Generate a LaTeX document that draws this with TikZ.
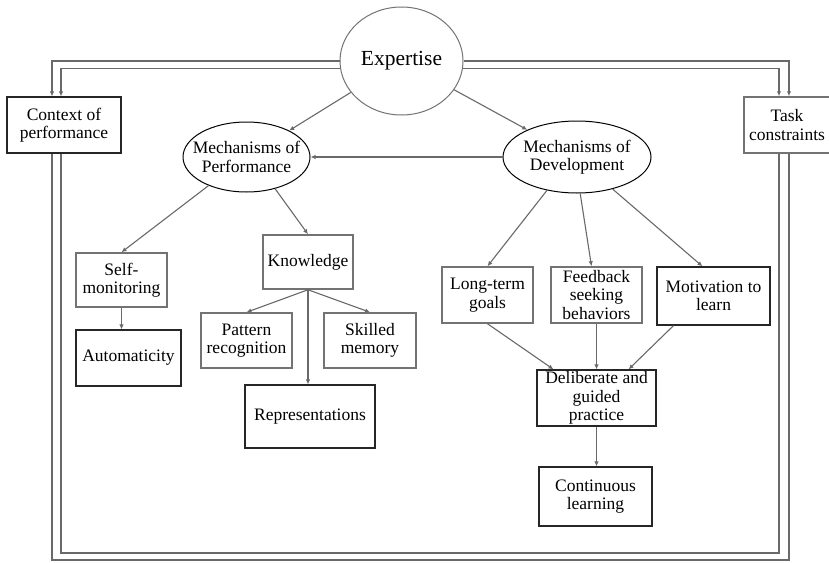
\documentclass[tikz,border=0pt]{standalone}
\usepackage{fontspec}
\setmainfont{Liberation Serif}
\usetikzlibrary{arrows.meta,shapes.geometric,calc}
\definecolor{lgray}{RGB}{105,105,105}
\definecolor{bgray}{RGB}{115,115,115}
\newcommand\nodefont{\fontsize{17.5}{18.5}\selectfont}
\begin{document}
\begin{tikzpicture}[x=1pt,y=-1pt,
  conn/.style={draw=lgray,line width=1.1pt,-{Latex[length=5pt,width=4.5pt]}},
  framel/.style={draw=lgray,line width=1.3pt},
  gbox/.style={draw=bgray,line width=1.5pt,align=center,inner sep=0pt,font=\nodefont},
  kbox/.style={draw=black!85,line width=1.2pt,align=center,inner sep=0pt,font=\nodefont},
  ell/.style={ellipse,draw=black,line width=1pt,align=center,inner xsep=-14pt,inner ysep=-4pt,font=\nodefont}]
\useasboundingbox[fill=white] (0,0) rectangle (829,562);

\node[ellipse,draw=bgray,line width=1pt,inner sep=0pt,minimum width=123pt,minimum height=108pt,font=\fontsize{21.5}{23}\selectfont] (E) at (401.5,61) {Expertise};
\node[kbox,minimum width=114pt,minimum height=56pt] (Ctx) at (64,125) {Context of\\performance};
\node[gbox,minimum width=86pt,minimum height=56pt] (T) at (787,125) {Task\\constraints};

\node[ell,minimum width=127pt,minimum height=70pt] (MP) at (246.5,157) {Mechanisms of\\Performance};
\node[ell,minimum width=148pt,minimum height=72pt] (MD) at (577,157) {Mechanisms of\\Development};

\node[gbox,minimum width=91pt,minimum height=54pt] (S) at (121.5,280) {Self-\\monitoring};
\node[gbox,minimum width=90pt,minimum height=54pt] (K) at (308,262) {Knowledge};
\node[kbox,minimum width=105pt,minimum height=56pt] (A) at (128.5,358) {Automaticity};
\node[gbox,minimum width=91pt,minimum height=55pt] (P) at (246.5,340.5) {Pattern\\recognition};
\node[gbox,minimum width=92pt,minimum height=55pt] (SM) at (370,340.5) {Skilled\\memory};
\node[kbox,minimum width=130pt,minimum height=63pt] (R) at (310,416.5) {Representations};

\node[gbox,minimum width=91pt,minimum height=56pt] (LT) at (487.5,295) {Long-term\\goals};
\node[gbox,minimum width=91pt,minimum height=56pt] (F) at (596.5,295) {Feedback\\seeking\\behaviors};
\node[kbox,minimum width=113pt,minimum height=58pt] (Mo) at (713.5,296) {Motivation to\\learn};
\node[kbox,minimum width=119pt,minimum height=56pt] (D) at (596.5,398) {Deliberate and\\guided\\practice};
\node[kbox,minimum width=113pt,minimum height=59pt] (C) at (595.5,496.5) {Continuous\\learning};

\coordinate (ob) at (400,560);
\coordinate (ib) at (400,553);

% connectors
\draw[conn] (E) -- (MP);
\draw[conn] (E) -- (MD);
\draw[conn] (MD.west) -- (MP.east);
\draw[conn] (MP.217) -- (S.north);
\draw[conn] (MP.-48) -- (K.north);
\draw[conn] (S.south) -- (S.south |- A.north);
\draw[conn] (K.south) -- (P.north);
\draw[conn] (K.south) -- (SM.north);
\draw[conn] (K.south) -- (K.south |- R.north);
\draw[conn] (MD.228) -- (LT.north);
\draw[conn] (MD.-85) -- ($(F.north)+(-5,0)$);
\draw[conn] (MD.-42) -- ($(Mo.north)+(-11,0)$);
\draw[conn] (LT.south) -- ($(D.north)+(-43,0)$);
\draw[conn] (F.south) -- (D.north);
\draw[conn] ($(Mo.south)+(-40,0)$) -- ($(D.north)+(32,0)$);
\draw[conn] (D.south) -- (D.south |- C.north);

% double lines
\draw[conn,line width=1.3pt] (E.west) -| ($(Ctx.north)+(-12,0)$);
\draw[conn,line width=1.3pt] (E.187.5) -| ($(Ctx.north)+(-3,0)$);
\draw[conn,line width=1.3pt] (E.east) -| ($(T.north)+(2,0)$);
\draw[conn,line width=1.3pt] (E.-7.5) -| ($(T.north)+(-8,0)$);
\draw[framel] ($(Ctx.south)+(-12,0)$) |- (ob) -| ($(T.south)+(2,0)$);
\draw[framel] ($(Ctx.south)+(-3,0)$) |- (ib) -| ($(T.south)+(-8,0)$);
\end{tikzpicture}
\end{document}
